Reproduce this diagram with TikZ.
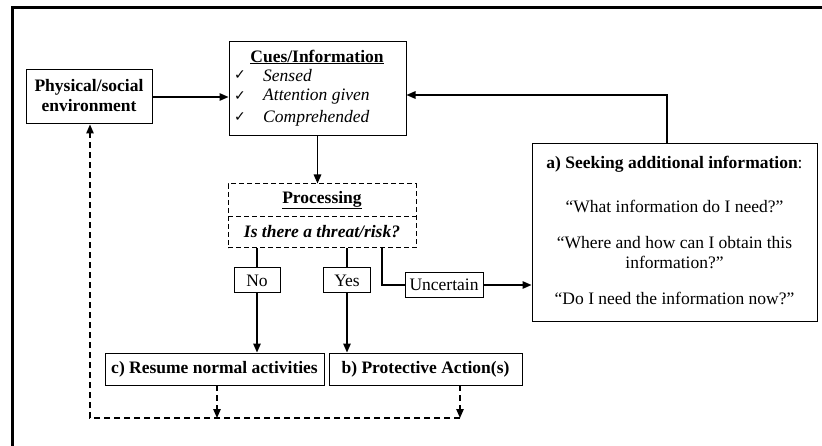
\documentclass[tikz,border=0pt]{standalone}
\usepackage{fontspec}
\setmainfont{Liberation Serif}
\newfontfamily\symfont{DejaVu Sans}
\usetikzlibrary{arrows.meta,calc}
\begin{document}
\begin{tikzpicture}[x=1pt,y=-1pt,
  font=\fontsize{17.5}{20}\selectfont,
  box/.style={draw,line width=1pt,inner sep=0pt,align=center},
  dbox/.style={draw,line width=1pt,dash pattern=on 5pt off 3pt,inner sep=0pt},
  arr/.style={line width=1.4pt,-{Triangle[length=9pt,width=7.5pt]}},
  ln/.style={line width=1.4pt},
  darr/.style={line width=1.2pt,dash pattern=on 6pt off 4pt,-{Triangle[length=9pt,width=7.5pt]}},
  txt/.style={inner sep=0pt,align=center},
  ck/.style={inner sep=0pt,font=\symfont\fontsize{14}{14}\selectfont}]
\useasboundingbox (0,0) rectangle (822,446);
% frame
\coordinate (f1) at (822,8);
\coordinate (f2) at (12,8);
\coordinate (f3) at (12,446);
\draw[line width=3pt] (f1) -- (f2) -- (f3);
% environment
\node[box,minimum width=126pt,minimum height=54pt] (env) at (89,97) {};
\node[txt,font=\fontsize{17.5}{20}\selectfont\bfseries] (envt) at (89,96) {Physical/social\\environment};
% cues
\node[box,minimum width=177pt,minimum height=94pt] (cues) at (317.5,89) {};
\node[txt,font=\fontsize{17.5}{20}\selectfont\bfseries] (cuest) at (317,57) {\underline{Cues/Information}};
\node[ck] (ck1) at (240,75) {✓};
\node[ck] (ck2) at (240,96) {✓};
\node[ck] (ck3) at (240,117) {✓};
\node[txt,anchor=west,font=\fontsize{17.5}{20}\selectfont\itshape] (it1) at (263,76) {Sensed};
\node[txt,anchor=west,font=\fontsize{17.5}{20}\selectfont\itshape] (it2) at (263,97) {Attention given};
\node[txt,anchor=west,font=\fontsize{17.5}{20}\selectfont\itshape] (it3) at (263,118) {Comprehended};
% processing
\node[dbox,minimum width=188pt,minimum height=64pt] (proc) at (322,216) {};
\coordinate (dv1) at (228,217);
\coordinate (dv2) at (416,217);
\draw[line width=1pt,dash pattern=on 5pt off 3pt] (dv1) -- (dv2);
\node[txt,font=\fontsize{17.5}{20}\selectfont\bfseries] (proct) at (322,200) {\underline{Processing}};
\node[txt,font=\fontsize{17.5}{20}\selectfont\bfseries\itshape] (procq) at (322,232) {Is there a threat/risk?};
% answers
\node[box,minimum width=46pt,minimum height=25pt] (no) at (257,280.5) {No};
\node[box,minimum width=47pt,minimum height=25pt] (yes) at (347,280.5) {Yes};
\node[box,minimum width=78pt,minimum height=25pt] (unc) at (444,285) {Uncertain};
% seeking box
\node[box,minimum width=285pt,minimum height=178pt] (seek) at (674.5,233) {};
\node[txt] (s1) at (674.5,164) {\textbf{a) Seeking additional information}:};
\node[txt] (s2) at (674.5,206) {“What information do I need?”};
\node[txt] (s3) at (674.5,253) {“Where and how can I obtain this\\information?”};
\node[txt] (s4) at (674.5,298) {“Do I need the information now?”};
% outcome boxes
\node[box,minimum width=219pt,minimum height=32pt,font=\fontsize{17.5}{20}\selectfont\bfseries] (c) at (214.5,369) {c) Resume normal activities};
\node[box,minimum width=193pt,minimum height=32pt,font=\fontsize{17.5}{20}\selectfont\bfseries] (b) at (425.5,369) {b) Protective Action(s)};
% connectors
\draw[arr] (env.east) -- (env.east -| cues.west);
\draw[arr] (cues.south) -- (cues.south |- proc.north);
\draw[ln] (proc.south -| no.north) -- (no.north);
\draw[ln] (proc.south -| yes.north) -- (yes.north);
\draw[arr] (no.south) -- (no.south |- c.north);
\draw[arr] (yes.south) -- (yes.south |- b.north);
\coordinate (uk) at (382,248);
\draw[ln] (uk) |- (unc.west);
\draw[arr] (unc.east) -- (unc.east -| seek.west);
\coordinate (atop) at (667,144);
\coordinate (fb) at (667,95);
\draw[arr] (atop) -- (fb) -- (fb -| cues.east);
% dashed feedback
\coordinate (cd) at (217,385);
\coordinate (bd) at (460,385);
\coordinate (dl) at (90,418);
\coordinate (dr) at (460,418);
\draw[darr] (cd) -- (cd |- dl);
\draw[darr] (bd) -- (dr);
\draw[darr] (dr) -- (dl) -- (dl |- env.south);
\end{tikzpicture}
\end{document}
